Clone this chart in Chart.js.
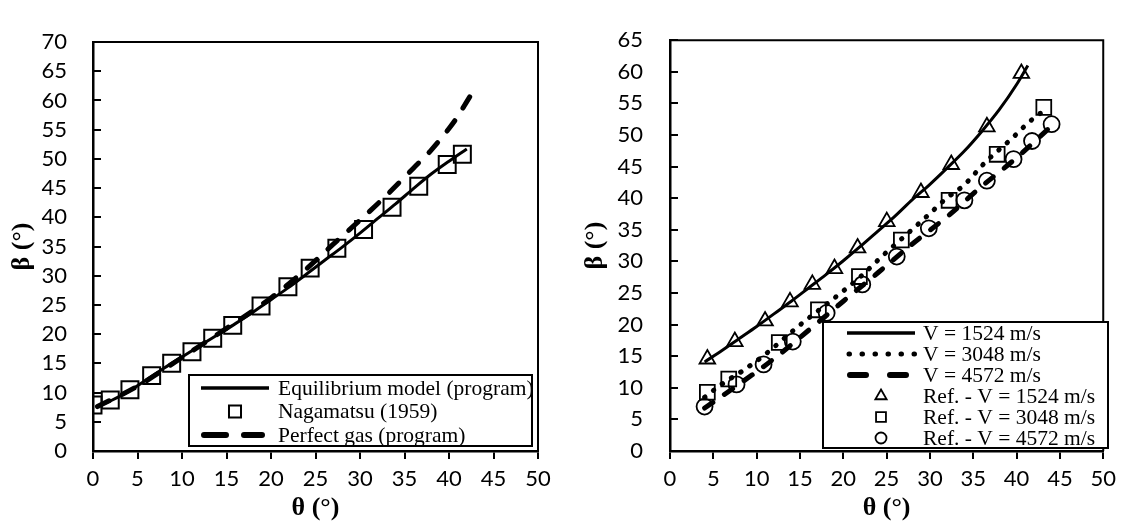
<!DOCTYPE html>
<html><head><meta charset="utf-8">
<script src="https://cdn.jsdelivr.net/npm/chart.js@4.4.1/dist/chart.umd.min.js"></script>
<style>
html,body{margin:0;padding:0;background:#fff;overflow:hidden;width:1123px;height:525px}
#c1{position:absolute;left:0;top:0}
#c2{position:absolute;left:560px;top:0}
</style></head>
<body>
<canvas id="c1" width="560" height="525"></canvas>
<canvas id="c2" width="563" height="525"></canvas>
<script>
// ---------- Left chart data ----------
const leftXTicks = {min:0, max:50, step:5};
const leftYTicks = {min:0, max:70, step:5};
const eqTheta = [0.4,2,4,6,8,10,12,14,16,18,20,22,24,26,28,30,32,34,36,38,40,42];
const eqBeta  = [7.6,8.6,10.2,12.2,14.2,16.1,18.0,19.9,21.8,23.8,25.9,28.0,30.3,32.6,34.9,37.3,39.8,42.3,44.9,47.4,49.6,51.7];
const nagTheta = [0,1.94,4.15,6.59,8.84,11.12,13.45,15.7,18.88,21.9,24.4,27.4,30.4,33.6,36.6,39.8,41.5];
const nagBeta  = [7.86,8.72,10.5,12.9,15.0,17.0,19.3,21.5,24.8,28.1,31.3,34.7,37.9,41.7,45.3,49.05,50.8];
const pgTheta = [0.5,5,10,15,20,24,27,30,33,36,38,40,41,42,43.2];
const pgBeta  = [7.6,11.1,16.0,21.0,26.2,31.2,35.4,39.5,43.8,48.4,51.5,55.2,57.3,59.8,62.8];

// ---------- Right chart data ----------
const rightXTicks = {min:0, max:50, step:5};
const rightYTicks = {min:0, max:65, step:5};
const v1Theta = [4,6,8,10,12,14,16,18,20,22,24,26,28,30,32,34,36,38,40,41.3];
const v1Beta  = [14.1,15.9,17.8,19.7,21.7,23.7,25.8,27.9,30.1,32.4,34.8,37.2,39.8,42.2,44.8,47.5,50.6,54.0,58.0,61.0];
const v2Theta = [4,6,8.5,11,14.7,17,19.8,22,24.7,27,29.7,32,33.8,36.4,39.5,41.4,42.8];
const v2Beta  = [8.5,10.6,12.8,15.3,19.6,22.1,25.1,27.6,31.1,33.9,37.2,40.1,41.9,45.7,49.5,52.0,53.5];
const v3Theta = [4,8,12,16,20,24,28,32,36,40,44];
const v3Beta  = [6.8,10.6,14.6,19.1,23.7,28.2,32.8,37.1,41.9,46.4,51.4];
const r1Theta = [4.31,7.48,10.97,13.85,16.43,18.98,21.65,25.02,28.96,32.46,36.57,40.55];
const r1Beta  = [14.56,17.32,20.58,23.6,26.36,28.87,32.13,36.3,40.9,45.33,51.3,59.74];
const r2Theta = [4.31,6.78,12.61,17.13,21.86,26.7,32.21,37.76,43.14];
const r2Beta  = [9.29,11.4,17.17,22.34,27.6,33.38,39.66,46.94,54.37];
const r3Theta = [3.99,7.68,10.8,14.17,18.08,22.19,26.17,29.87,33.98,36.57,39.65,41.78,44.04];
const r3Beta  = [7.03,10.54,13.7,17.32,21.84,26.36,30.77,35.24,39.66,42.77,46.18,49.05,51.71];

const pts = (xs, ys) => xs.map((x, i) => ({x, y: ys[i]}));

const TICK_FONT = {family:'Lato', size:22};
const TITLE_FONT = {family:'"Liberation Serif"', size:26, weight:'bold'};
const LEG_FONT = '21.5px "Liberation Serif"';

const framePlugin = {
  id:'frame',
  afterDatasetsDraw(chart) {
    const {ctx, chartArea:a, scales} = chart;
    ctx.save();
    ctx.strokeStyle = '#000';
    ctx.lineWidth = 2;
    ctx.beginPath();
    ctx.moveTo(a.left, a.top); ctx.lineTo(a.right, a.top); ctx.lineTo(a.right, a.bottom);
    ctx.stroke();
    scales.y.ticks.forEach(t => {
      const py = Math.round(scales.y.getPixelForValue(t.value));
      ctx.beginPath(); ctx.moveTo(a.left, py); ctx.lineTo(a.left + 8, py); ctx.stroke();
    });
    ctx.restore();
  }
};

const legendPlugin = {
  id:'boxLegend',
  afterDraw(chart, args, o) {
    if (!o || !o.items) return;
    const ctx = chart.ctx;
    ctx.save();
    ctx.fillStyle = '#fff';
    ctx.fillRect(o.x0, o.y0, o.x1 - o.x0, o.y1 - o.y0);
    ctx.strokeStyle = '#000'; ctx.lineWidth = 2;
    ctx.strokeRect(o.x0, o.y0, o.x1 - o.x0, o.y1 - o.y0);
    o.items.forEach((it, i) => {
      const ds = chart.data.datasets[it.ds];
      const y = o.rowY0 + i * o.rowH;
      ctx.save();
      ctx.strokeStyle = '#000';
      if (ds.showLine) {
        ctx.lineWidth = it.width;
        ctx.lineCap = it.cap || 'butt';
        ctx.setLineDash(it.dash || []);
        ctx.beginPath(); ctx.moveTo(it.sx0, y); ctx.lineTo(it.sx1, y); ctx.stroke();
      } else {
        ctx.fillStyle = 'rgba(0,0,0,0)';
        ctx.lineWidth = it.width;
        Chart.helpers.drawPoint(ctx, {pointStyle: ds.pointStyle, radius: it.radius, rotation: 0, borderWidth: it.width}, o.markX, y);
      }
      ctx.restore();
      ctx.fillStyle = '#000';
      ctx.font = LEG_FONT;
      ctx.textBaseline = 'middle';
      ctx.textAlign = 'left';
      ctx.fillText(ds.label, o.textX, y + 1);
    });
    ctx.restore();
  }
};

function axes(xt, yt, yWidth, xHeight, yTitlePad, yTickPad) {
  return {
    x: {
      type:'linear', min:xt.min, max:xt.max,
      ticks:{stepSize:xt.step, padding:7, color:'#000', font:TICK_FONT, maxRotation:0, autoSkip:false},
      grid:{display:true, drawOnChartArea:false, drawTicks:true, tickLength:8, color:'#000', lineWidth:2},
      border:{display:true, color:'#000', width:2.5},
      title:{display:true, text:'θ (°)', color:'#000', font:TITLE_FONT, padding:{top:0, bottom:1}},
      afterFit(s){ s.height = xHeight; }
    },
    y: {
      type:'linear', min:yt.min, max:yt.max,
      ticks:{stepSize:yt.step, padding:yTickPad, color:'#000', font:TICK_FONT, autoSkip:false},
      grid:{display:false, drawTicks:false, drawOnChartArea:false},
      border:{display:true, color:'#000', width:2.5},
      title:{display:true, text:'β (°)', color:'#000', font:TITLE_FONT, padding:{top:yTitlePad, bottom:0}},
      afterFit(s){ s.width = yWidth; }
    }
  };
}

const common = {
  responsive:false, animation:false, devicePixelRatio:1,
  events:[],
};

const chart1 = new Chart(document.getElementById('c1'), {
  type:'scatter',
  data:{datasets:[
    {label:'Equilibrium model (program)', data:pts(eqTheta, eqBeta), showLine:true, borderColor:'#000', borderWidth:3,
     pointRadius:0, cubicInterpolationMode:'monotone', fill:false},
    {label:'Nagamatsu (1959)', data:pts(nagTheta, nagBeta), showLine:false, pointStyle:'rect', pointRadius:12,
     borderColor:'#000', pointBorderWidth:2, backgroundColor:'rgba(0,0,0,0)'},
    {label:'Perfect gas (program)', data:pts(pgTheta, pgBeta), showLine:true, borderColor:'#000', borderWidth:5,
     borderDash:[13,15], borderCapStyle:'round', pointRadius:0, cubicInterpolationMode:'monotone', fill:false}
  ]},
  options:Object.assign({}, common, {
    layout:{padding:{left:0, top:42, right:22, bottom:0}},
    scales:axes(leftXTicks, leftYTicks, 93, 74, 7, 26),
    plugins:{
      legend:{display:false}, tooltip:{enabled:false},
      boxLegend:{x0:189, y0:375, x1:532, y1:446, rowY0:388, rowH:23.5, textX:278, markX:235,
        items:[
          {ds:0, width:3.5, sx0:201, sx1:269},
          {ds:1, width:2, radius:8.5},
          {ds:2, width:6, cap:'round', dash:[22,18], sx0:204, sx1:262}
        ]}
    }
  }),
  plugins:[framePlugin, legendPlugin]
});

const chart2 = new Chart(document.getElementById('c2'), {
  type:'scatter',
  data:{datasets:[
    {label:'V = 1524 m/s', data:pts(v1Theta, v1Beta), showLine:true, borderColor:'#000', borderWidth:3,
     pointRadius:0, cubicInterpolationMode:'monotone', fill:false},
    {label:'V = 3048 m/s', data:pts(v2Theta, v2Beta), showLine:true, borderColor:'#000', borderWidth:5,
     borderDash:[0.5,10.5], borderCapStyle:'round', pointRadius:0, cubicInterpolationMode:'monotone', fill:false},
    {label:'V = 4572 m/s', data:pts(v3Theta, v3Beta), showLine:true, borderColor:'#000', borderWidth:5,
     borderDash:[10,14], borderCapStyle:'round', pointRadius:0, cubicInterpolationMode:'monotone', fill:false},
    {label:'Ref. - V = 1524 m/s', data:pts(r1Theta, r1Beta), showLine:false, pointStyle:'triangle', pointRadius:9,
     borderColor:'#000', pointBorderWidth:1.8, backgroundColor:'rgba(0,0,0,0)'},
    {label:'Ref. - V = 3048 m/s', data:pts(r2Theta, r2Beta), showLine:false, pointStyle:'rect', pointRadius:10.5,
     borderColor:'#000', pointBorderWidth:1.8, backgroundColor:'rgba(0,0,0,0)'},
    {label:'Ref. - V = 4572 m/s', data:pts(r3Theta, r3Beta), showLine:false, pointStyle:'circle', pointRadius:8,
     borderColor:'#000', pointBorderWidth:1.8, backgroundColor:'rgba(0,0,0,0)'}
  ]},
  options:Object.assign({}, common, {
    layout:{padding:{left:0, top:20, right:17, bottom:0}},
    scales:axes(rightXTicks, rightYTicks, 110, 74, 20, 27),
    plugins:{
      legend:{display:false}, tooltip:{enabled:false},
      boxLegend:{x0:263, y0:322, x1:548, y1:448, rowY0:333, rowH:21, textX:363, markX:321,
        items:[
          {ds:0, width:3.5, sx0:287, sx1:355},
          {ds:1, width:5, cap:'round', dash:[0.5,12.5], sx0:289, sx1:356},
          {ds:2, width:6, cap:'round', dash:[16,24], sx0:290, sx1:350},
          {ds:3, width:1.8, radius:6.5},
          {ds:4, width:1.8, radius:7},
          {ds:5, width:1.8, radius:5.5}
        ]}
    }
  }),
  plugins:[framePlugin, legendPlugin]
});

if (document.fonts && document.fonts.ready) {
  document.fonts.ready.then(() => { chart1.update(); chart2.update(); });
}
</script>
</body></html>
